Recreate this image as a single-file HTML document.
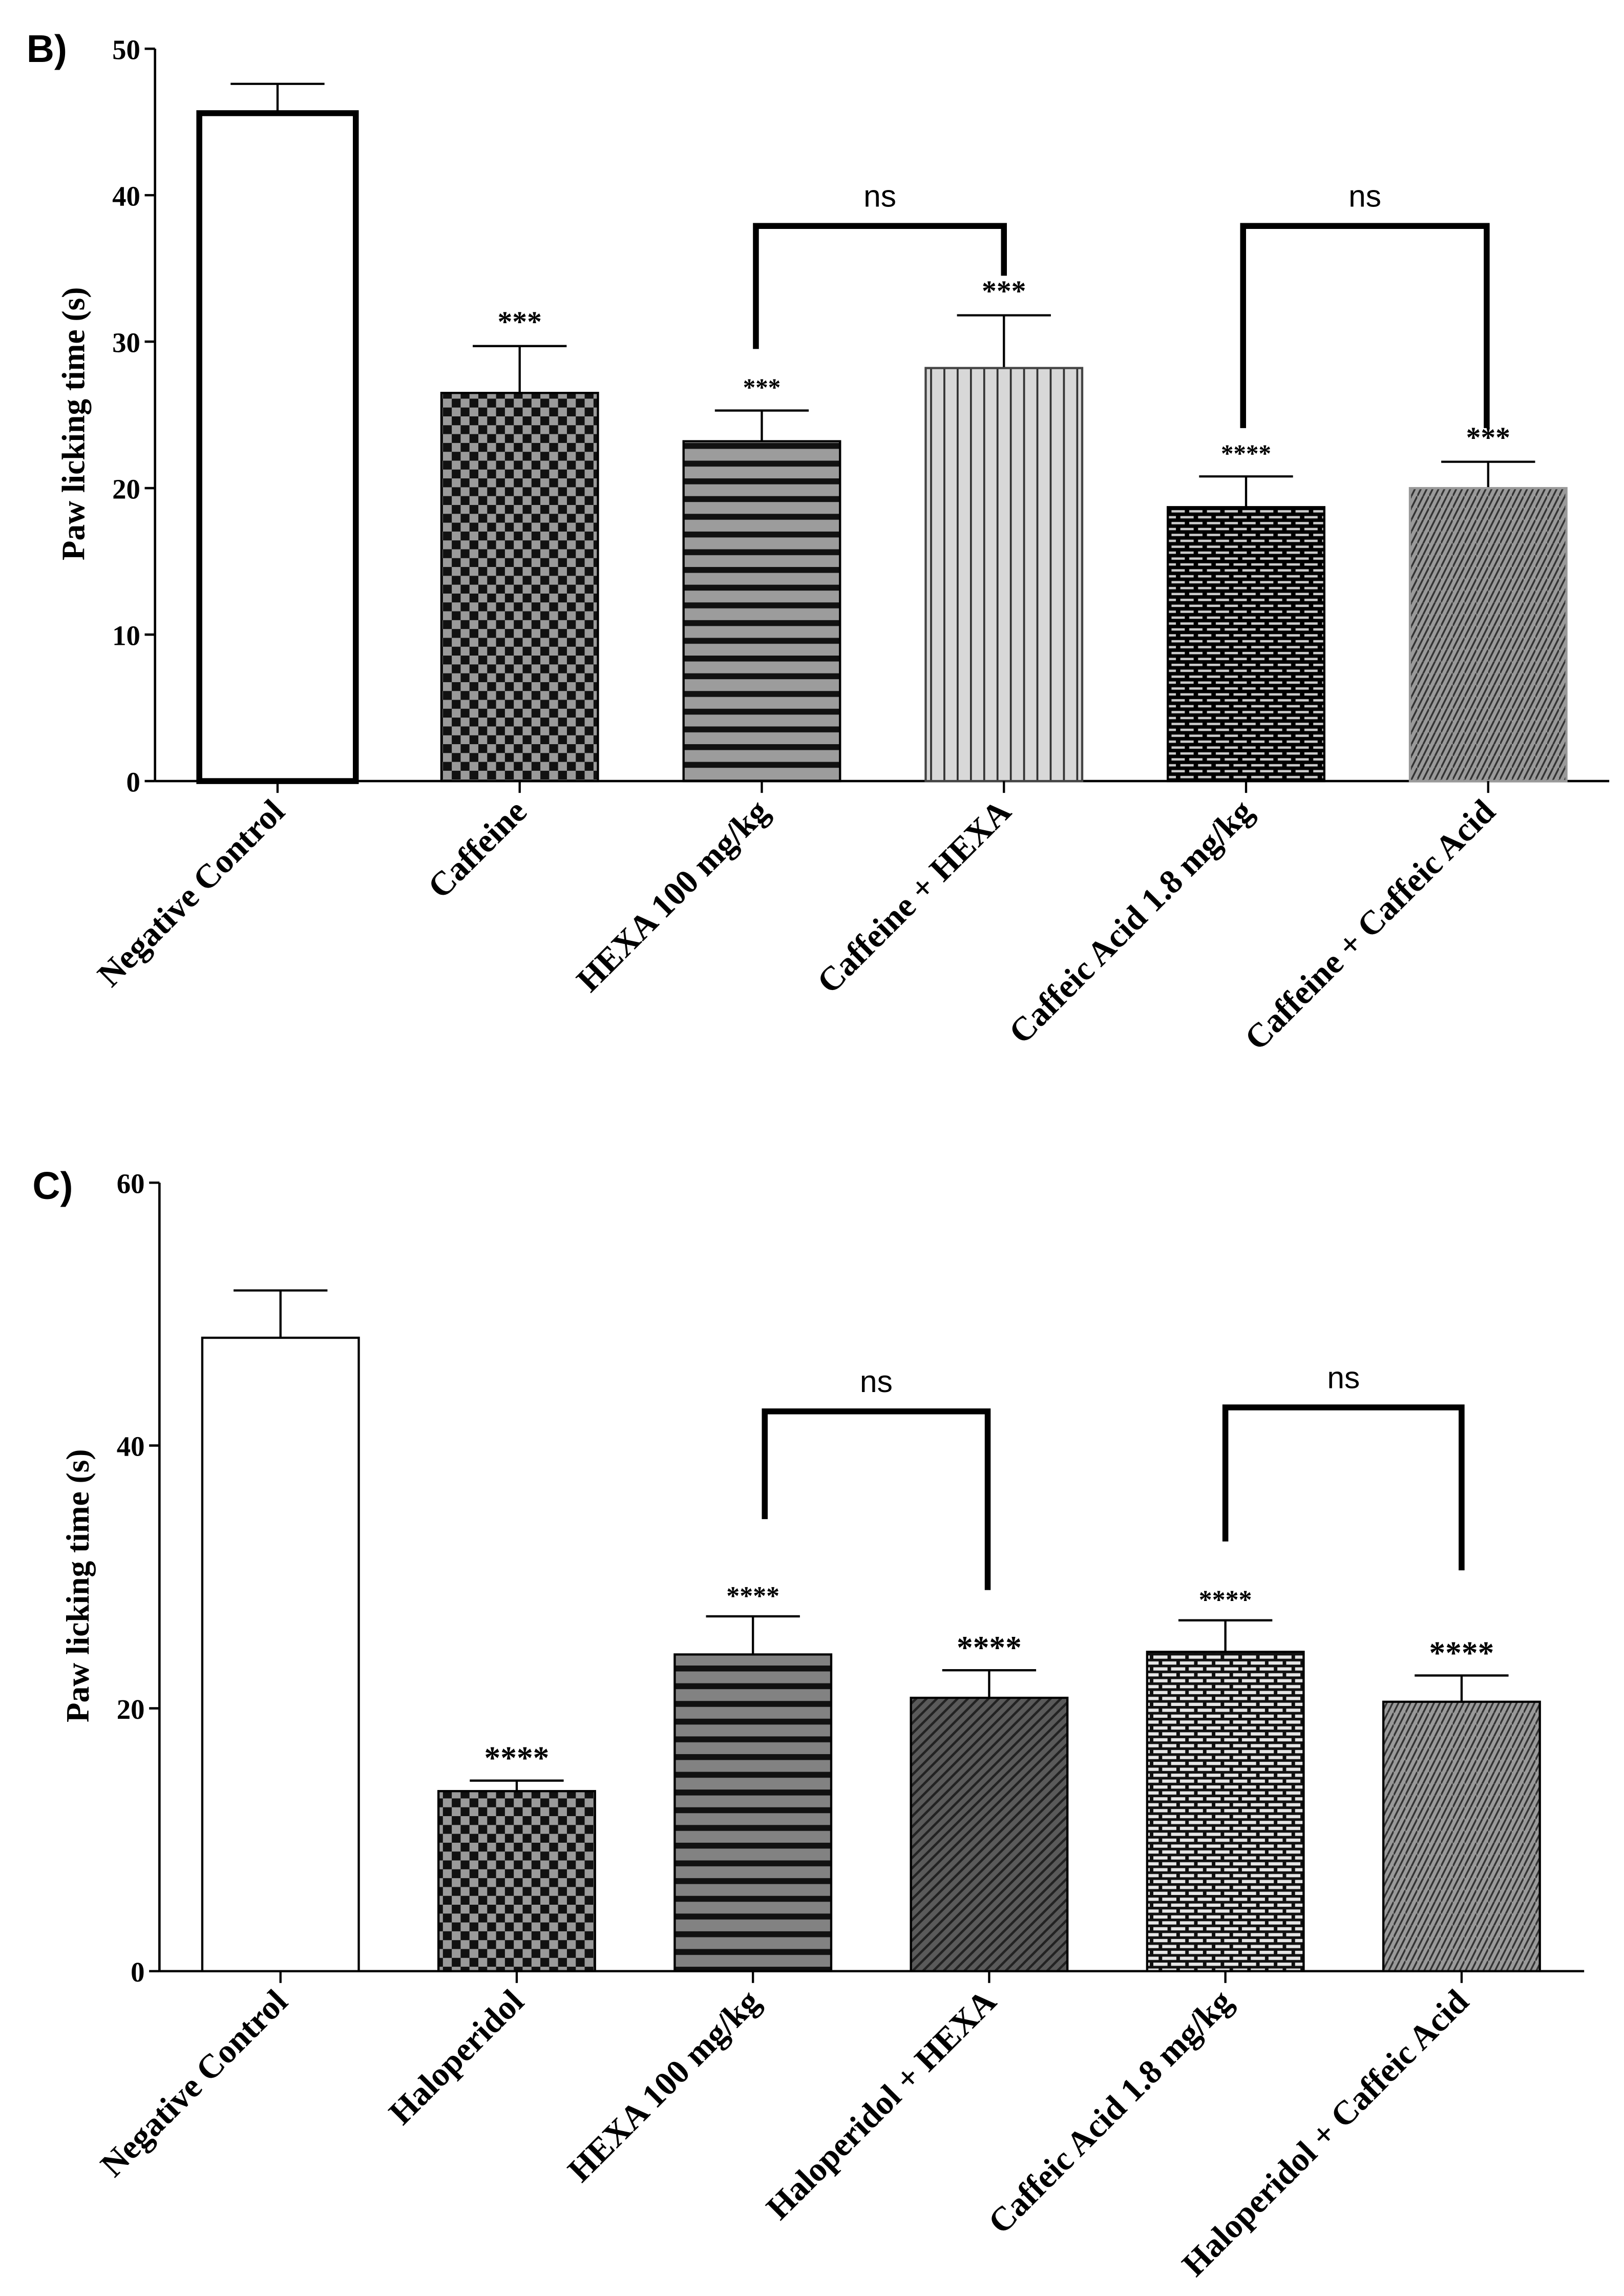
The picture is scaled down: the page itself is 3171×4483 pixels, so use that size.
<!DOCTYPE html>
<html><head><meta charset="utf-8"><style>
html,body{margin:0;padding:0;background:#fff;}
svg{display:block;}
.tk{font-family:"Liberation Serif",serif;font-weight:bold;font-size:19px;}
.xl{font-family:"Liberation Serif",serif;font-weight:bold;font-size:23px;}
.yt{font-family:"Liberation Serif",serif;font-weight:bold;font-size:22px;}
.pl{font-family:"Liberation Sans",sans-serif;font-weight:bold;font-size:26px;}
.ns{font-family:"Liberation Sans",sans-serif;font-size:21px;}
.st{font-family:"Liberation Serif",serif;font-weight:bold;}
</style></head><body>
<svg id="fig" width="3171" height="4483" viewBox="0 0 1100 1555" preserveAspectRatio="none" xmlns="http://www.w3.org/2000/svg">
<defs>
<pattern id="pChk" width="12" height="12" patternUnits="userSpaceOnUse"><rect width="12" height="12" fill="#9a9a9a"/><rect width="6" height="6" fill="#111"/><rect x="6" y="6" width="6" height="6" fill="#111"/></pattern>
<pattern id="pHz" width="12" height="12" patternUnits="userSpaceOnUse"><rect width="12" height="12" fill="#9c9c9c"/><rect y="0" width="12" height="4" fill="#111"/></pattern>
<pattern id="pHz2" width="12" height="12" patternUnits="userSpaceOnUse"><rect width="12" height="12" fill="#828282"/><rect y="0" width="12" height="4" fill="#111"/></pattern>
<pattern id="pVt" width="9" height="9" patternUnits="userSpaceOnUse"><rect width="9" height="9" fill="#d8d8d8"/><rect x="0" width="1.3" height="9" fill="#333"/></pattern>
<pattern id="pBrick" width="12" height="8" patternUnits="userSpaceOnUse"><rect width="12" height="8" fill="#000"/><rect x="1.5" y="1.5" width="9" height="1.6" fill="#ccc"/><rect x="7.5" y="5.5" width="9" height="1.6" fill="#ccc"/><rect x="-4.5" y="5.5" width="9" height="1.6" fill="#ccc"/></pattern>
<pattern id="pBrick2" width="12" height="8" patternUnits="userSpaceOnUse"><rect width="12" height="8" fill="#111"/><rect x="1.2" y="1.2" width="9.6" height="2.2" fill="#e6e6e6"/><rect x="7.2" y="5.2" width="9.6" height="2.2" fill="#e6e6e6"/><rect x="-4.8" y="5.2" width="9.6" height="2.2" fill="#e6e6e6"/></pattern>
<pattern id="pZig" width="8" height="8" patternUnits="userSpaceOnUse"><rect width="8" height="8" fill="#9a9a9a"/><path d="M0 8 L4 0 M4 8 L8 0" stroke="#333" stroke-width="1.2"/></pattern>
<pattern id="pDiag" width="7" height="7" patternUnits="userSpaceOnUse"><rect width="7" height="7" fill="#5a5a5a"/><path d="M-1 8 L8 -1 M-1 1 L1 -1 M6 8 L8 6" stroke="#222" stroke-width="1.6"/></pattern>
</defs>
<text class="pl" x="18" y="42">B)</text>
<text class="pl" x="22" y="812">C)</text>
</svg>
<script>
// Panel B data
const catsB = ["Negative Control","Caffeine","HEXA 100 mg/kg","Caffeine + HEXA","Caffeic Acid 1.8 mg/kg","Caffeine + Caffeic Acid"];
const meansB = [45.6, 26.5, 23.2, 28.2, 18.7, 20.0];
const errB = [2.0, 3.2, 2.1, 3.6, 2.1, 1.8];
const starsB = ["", "***", "***", "***", "****", "***"];
const ticksB = [0, 10, 20, 30, 40, 50];
// Panel C data
const catsC = ["Negative Control","Haloperidol","HEXA 100 mg/kg","Haloperidol + HEXA","Caffeic Acid 1.8 mg/kg","Haloperidol + Caffeic Acid"];
const meansC = [48.2, 13.7, 24.1, 20.8, 24.3, 20.5];
const errC = [3.6, 0.8, 2.9, 2.1, 2.4, 2.0];
const starsC = ["", "****", "****", "****", "****", "****"];
const ticksC = [0, 20, 40, 60];

const NS = "http://www.w3.org/2000/svg";
const svg = document.getElementById('fig');
function mk(tag, attrs, parent){
  const e = document.createElementNS(NS, tag);
  for (const k in attrs) e.setAttribute(k, attrs[k]);
  (parent||svg).appendChild(e);
  return e;
}

function panel(cfg){
  const g = mk('g', {});
  
  
  const y = v => cfg.y0 - v * (cfg.y0 - cfg.yTop) / cfg.ymax;
  const x = i => cfg.x0 + i * cfg.step;
  const ya = mk('line', {x1:cfg.ax, y1:cfg.yTop, x2:cfg.ax, y2:cfg.y0, stroke:'#000','stroke-width':1.6}, g);
  
  
  const xa = mk('line', {x1:cfg.ax, y1:cfg.y0, x2:cfg.xEnd, y2:cfg.y0, stroke:'#000','stroke-width':1.6}, g);
  
  
  cfg.ticks.forEach(t => {
    mk('line', {x1:cfg.ax-7, y1:y(t), x2:cfg.ax, y2:y(t), stroke:'#000','stroke-width':1.6}, g);
    const tl = mk('text', {class:'tk', x:cfg.ax-10, y:y(t)+7, 'text-anchor':'end'}, g);
    tl.textContent = t;
    
    
  });
  const yt = mk('text', {class:'yt', x:0, y:0, 'text-anchor':'middle', transform:`translate(${cfg.ytX},${(cfg.yTop+cfg.y0)/2+6}) rotate(-90)`}, g);
  yt.textContent = 'Paw licking time (s)';
  
  
  cfg.cats.forEach((c, i) => {
    const cx = x(i), top = y(cfg.means[i]);
    const sw = (i===0 && cfg.thick) ? 4 : 1.5;
    const et = y(cfg.means[i] + cfg.errs[i]);
    const el = mk('path', {d:`M${cx} ${top} V${et} M${cx-cfg.bw*0.3} ${et} H${cx+cfg.bw*0.3}`, stroke:'#000','stroke-width':1.5, fill:'none'}, g);
    
    
    const r = mk('rect', {x:cx-cfg.bw/2, y:top, width:cfg.bw, height:cfg.y0-top, fill:cfg.fills[i], stroke: cfg.strokes ? cfg.strokes[i] : '#000', 'stroke-width':sw}, g);
    
    
    mk('line', {x1:cx, y1:cfg.y0, x2:cx, y2:cfg.y0+8, stroke:'#000','stroke-width':1.5}, g);
    if (cfg.stars[i]) {
      const s = mk('text', {class:'st', x:cx, y:et - cfg.starGap, 'text-anchor':'middle', 'font-size': cfg.starSize[i]}, g);
      s.textContent = cfg.stars[i];
      
      
    }
    const lx = cx + 6, ly = cfg.y0 + 22;
    const t = mk('text', {class:'xl', x:0, y:0, 'text-anchor':'end', transform:`translate(${lx},${ly}) rotate(-45)`}, g);
    t.textContent = c;
    
    
  });
  cfg.brackets.forEach(b => {
    const xl = x(b.a) + b.dxa, xr = x(b.b) + b.dxb, yb = y(b.v);
    const p = mk('path', {d:`M${xl} ${y(b.la)} V${yb} H${xr} V${y(b.lb)}`, stroke:'#000','stroke-width':4, fill:'none'}, g);
    
    
    const n = mk('text', {class:'ns', x:(xl+xr)/2, y:yb-13, 'text-anchor':'middle'}, g);
    n.textContent = 'ns';
    
    
  });
}

panel({name:'chart-b', cats:catsB, means:meansB, errs:errB, stars:starsB, ticks:ticksB,
  ax:105, y0:529, yTop:33, ymax:50, x0:188, step:164, bw:106, xEnd:1090, ytX:57, thick:true,
  fills:['#fff','url(#pChk)','url(#pHz)','url(#pVt)','url(#pBrick)','url(#pZig)'],
  strokes:['#000','#000','#000','#444','#000','#999'],
  starGap:10, starSize:[16,20,17,20,17,20],
  brackets:[{a:2,b:3,dxa:-4,dxb:0,v:37.9,la:29.5,lb:34.5},{a:4,b:5,dxa:-2,dxb:-1,v:37.9,la:24.1,lb:24.1}]});

panel({name:'chart-c', cats:catsC, means:meansC, errs:errC, stars:starsC, ticks:ticksC,
  ax:108, y0:1335, yTop:801, ymax:60, x0:190, step:160, bw:106, xEnd:1073, ytX:60, thick:false,
  fills:['#fff','url(#pChk)','url(#pHz2)','url(#pDiag)','url(#pBrick2)','url(#pZig)'],
  starGap:8, starSize:[20,22,18,22,18,22],
  brackets:[{a:2,b:3,dxa:8,dxb:-1,v:42.6,la:34.4,lb:29.0},{a:4,b:5,dxa:0,dxb:0,v:42.9,la:32.7,lb:30.5}]});
</script>
</body></html>
